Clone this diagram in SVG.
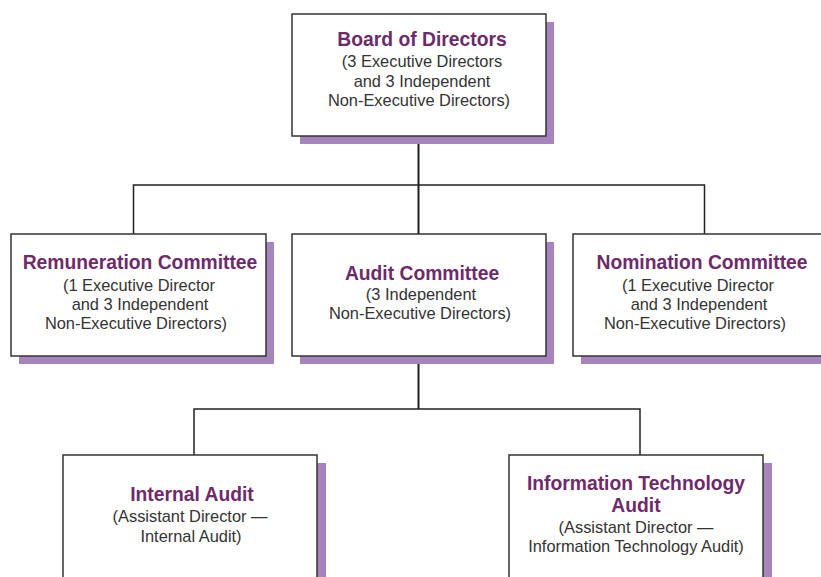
<svg xmlns="http://www.w3.org/2000/svg" width="821" height="577" viewBox="0 0 821 577">
<style>
.box{fill:#fff;stroke:#333;stroke-width:1.5}
.sh{fill:#a884bd}
.t{font-family:"Liberation Sans",Arial,sans-serif;font-weight:bold;font-size:19.3px;fill:#6e2a6b;text-anchor:middle}
.b{font-family:"Liberation Sans",Arial,sans-serif;font-size:16.4px;fill:#333;text-anchor:middle}
.c{stroke:#222;stroke-width:1.5;fill:none}
.tr{stroke:#231f20;stroke-width:2;fill:none}
</style>
<rect width="821" height="577" fill="#fff"/>
<g id="connectors">
<line class="tr" x1="418.5" y1="136" x2="418.5" y2="234"/>
<polyline class="c" points="133.5,234 133.5,185 704.5,185 704.5,234"/>
<line class="tr" x1="418.5" y1="356" x2="418.5" y2="409"/>
<polyline class="c" points="194,455 194,409 640,409 640,455"/>
</g>
<g id="board">
<rect class="sh" x="300" y="22" width="254" height="122"/>
<rect class="box" x="292" y="14" width="254" height="122"/>
<text class="t" x="422" y="46">Board of Directors</text>
<text class="b" x="422" y="67">(3 Executive Directors</text>
<text class="b" x="422" y="86.5">and 3 Independent</text>
<text class="b" x="419" y="105.5">Non-Executive Directors)</text>
</g>
<g id="remuneration">
<rect class="sh" x="19" y="242" width="255" height="122"/>
<rect class="box" x="11" y="234" width="255" height="122"/>
<text class="t" x="140" y="269">Remuneration Committee</text>
<text class="b" x="139" y="290.5">(1 Executive Director</text>
<text class="b" x="140" y="309.5">and 3 Independent</text>
<text class="b" x="136" y="328.5">Non-Executive Directors)</text>
</g>
<g id="audit">
<rect class="sh" x="300" y="242" width="254" height="122"/>
<rect class="box" x="292" y="234" width="254" height="122"/>
<text class="t" x="422" y="279.5">Audit Committee</text>
<text class="b" x="421" y="299.5">(3 Independent</text>
<text class="b" x="420" y="319">Non-Executive Directors)</text>
</g>
<g id="nomination">
<rect class="sh" x="581" y="242" width="255" height="122"/>
<rect class="box" x="573" y="234" width="255" height="122"/>
<text class="t" x="702" y="269">Nomination Committee</text>
<text class="b" x="698" y="290.5">(1 Executive Director</text>
<text class="b" x="699" y="309.5">and 3 Independent</text>
<text class="b" x="695" y="328.5">Non-Executive Directors)</text>
</g>
<g id="internal-audit">
<rect class="sh" x="71" y="463" width="255" height="125"/>
<rect class="box" x="63" y="455" width="254" height="130"/>
<text class="t" x="192" y="501">Internal Audit</text>
<text class="b" x="190" y="522">(Assistant Director —</text>
<text class="b" x="191" y="541.5">Internal Audit)</text>
</g>
<g id="it-audit">
<rect class="sh" x="517" y="463" width="255" height="125"/>
<rect class="box" x="509" y="455" width="254" height="130"/>
<text class="t" x="636" y="490">Information Technology</text>
<text class="t" x="636" y="511.5">Audit</text>
<text class="b" x="636" y="532.5">(Assistant Director —</text>
<text class="b" x="636" y="552">Information Technology Audit)</text>
</g>
</svg>
